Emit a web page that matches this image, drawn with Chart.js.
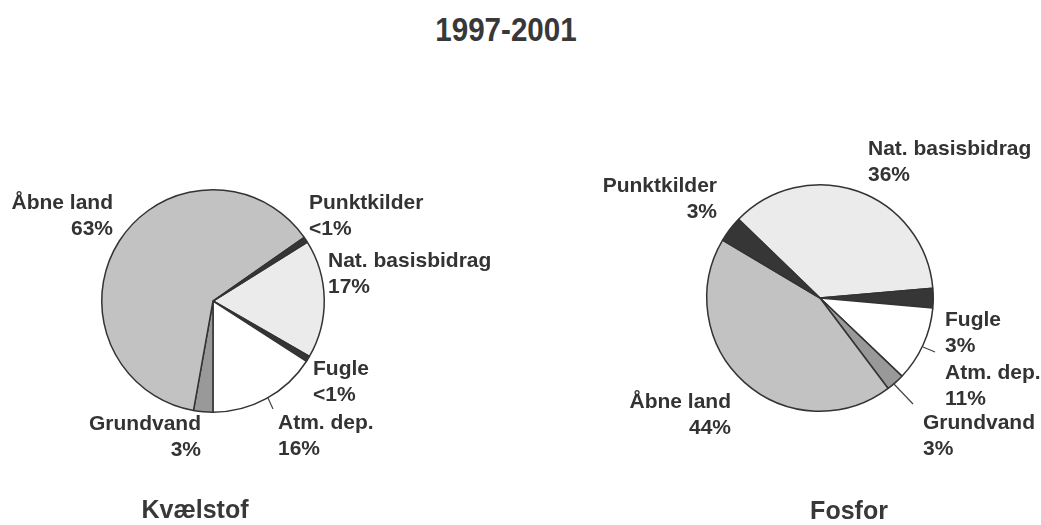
<!DOCTYPE html>
<html>
<head>
<meta charset="utf-8">
<script src="https://cdn.jsdelivr.net/npm/chart.js@4/dist/chart.umd.min.js"></script>
<style>
 body{margin:0;background:#fff;}
 #wrap{position:relative;width:1041px;height:525px;font-family:"Liberation Sans",Arial,sans-serif;color:#383838;}
 .ttl{position:absolute;font-weight:bold;text-align:center;white-space:nowrap;}
 canvas{position:absolute;top:0;}
</style>
</head>
<body>
<div id="wrap">
 <div class="ttl" style="left:406px;top:10px;width:200px;font-size:34px;transform:scaleX(0.87);">1997-2001</div>
 <canvas id="canvas_n" width="520" height="525" style="left:0;"></canvas>
 <canvas id="canvas_p" width="521" height="525" style="left:520px;"></canvas>
 <div class="ttl" style="left:95px;top:495px;width:200px;font-size:25px;">Kvælstof</div>
 <div class="ttl" style="left:749px;top:496px;width:200px;font-size:25px;">Fosfor</div>
</div>
<script>
/* data */
var categories=['Nat. basisbidrag','Fugle','Atm. dep.','Grundvand','Åbne land','Punktkilder'];
var kvaelstof=[17.2,0.8,15.9,2.8,62.5,0.8];
var kvaelstof_text=['17%','<1%','16%','3%','63%','<1%'];
var fosfor=[36.4,2.8,10.7,2.6,43.8,3.7];
var fosfor_text=['36%','3%','11%','3%','44%','3%'];

/* styles */
var colors=['#ebebeb','#363636','#ffffff','#999999','#c2c2c2','#363636'];

// label placement relative to pie center: [dx, dy, align]
var kvaelstof_pos=[[115,-40,'left'],[100,68,'left'],[65,122,'left'],[-12,123,'right'],[-100,-98,'right'],[96,-98,'left']];
var kvaelstof_lines=[[55,97,60,108]];
var fosfor_pos=[[48,-149,'left'],[125,22,'left'],[125,75,'left'],[103,125,'left'],[-89,104,'right'],[-103,-112,'right']];
var fosfor_lines=[[103,49,115,54],[73,85,93,106]];

/* label plugin */
var labels_plugin={
 id:'outlabels',
 afterDraw:function(chart,args,opts){
  var ctx=chart.ctx;
  var arc=chart.getDatasetMeta(0).data[0];
  var cx=arc.x,cy=arc.y;
  ctx.save();
  ctx.fillStyle='#333';
  ctx.font='bold 21px "Liberation Sans", Arial, sans-serif';
  ctx.textBaseline='middle';
  opts.pos.forEach(function(p,i){
   ctx.textAlign=p[2];
   ctx.fillText(chart.data.labels[i],cx+p[0],cy+p[1]);
   ctx.fillText(opts.text[i],cx+p[0],cy+p[1]+26);
  });
  ctx.strokeStyle='#444';
  ctx.lineWidth=1.2;
  opts.lines.forEach(function(l){
   ctx.beginPath();
   ctx.moveTo(cx+l[0],cy+l[1]);
   ctx.lineTo(cx+l[2],cy+l[3]);
   ctx.stroke();
  });
  ctx.restore();
 }
};

/* chart builder */
function make_pie(id,values,text,pos,lines,rotation,padding){
 var ctx=document.getElementById(id).getContext('2d');
 return new Chart(ctx,{
  type:'pie',
  data:{
   labels:categories,
   datasets:[{
    data:values,
    backgroundColor:colors,
    borderColor:'#333',
    borderWidth:1.5
   }]
  },
  options:{
   responsive:false,
   animation:false,
   devicePixelRatio:1,
   rotation:rotation,
   layout:{padding:padding},
   plugins:{
    legend:{display:false},
    tooltip:{enabled:false},
    outlabels:{pos:pos,text:text,lines:lines}
   }
  },
  plugins:[labels_plugin]
 });
}

make_pie('canvas_n',kvaelstof,kvaelstof_text,kvaelstof_pos,kvaelstof_lines,58,{left:101,right:195,top:189,bottom:112});
make_pie('canvas_p',fosfor,fosfor_text,fosfor_pos,fosfor_lines,-46,{left:186,right:107,top:184,bottom:113});
</script>
</body>
</html>
